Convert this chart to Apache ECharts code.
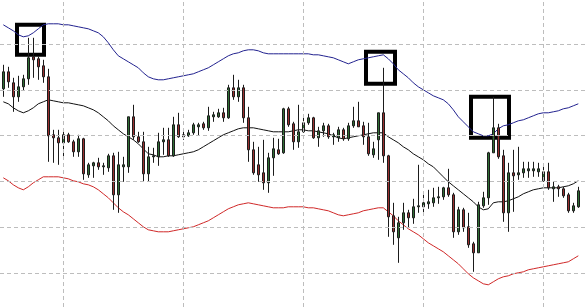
<!DOCTYPE html>
<html>
<head>
<meta charset="utf-8">
<script src="https://cdn.jsdelivr.net/npm/echarts@6/dist/echarts.min.js"></script>
<style>
html,body{margin:0;padding:0;background:#fff;}
#chart{width:585px;height:307px;}
</style>
</head>
<body>
<div id="chart"></div>
<script>
// Bar numbering: first visible bar is bar #12 of the series (vertical grid every 24 bars)
const FIRST_BAR = 12;

const opens = [
230,247,236,222,232,240,262,260,253,242,
184,181,176,184,177,167,180,144,153,156,
152,151,163,124,152,152,202,182,177,145,
162,162,177,179,163,194,184,183,186,192,
195,191,202,202,206,201,231,222,231,201,
169,154,146,136,161,169,166,210,195,177,
187,196,201,181,188,193,182,181,189,180,
193,198,193,182,164,179,206,163,103,81,
96,106,101,112,112,115,116,121,122,131,
124,87,109,92,75,66,113,121,166,191,
163,106,146,144,146,148,148,147,138,147,
130,132,130,124,108,112
];
const closes = [
247,237,222,232,240,261,259,252,242,183,
181,176,184,177,167,180,145,154,156,152,
153,163,124,154,154,202,182,177,145,162,
163,177,179,163,194,182,182,186,194,194,
191,203,204,206,201,231,222,231,201,169,
146,144,136,161,170,165,210,194,177,187,
196,201,181,188,193,182,184,189,180,193,
198,192,182,165,170,206,163,102,87,96,
106,101,112,113,116,117,121,122,131,124,
87,109,91,74,66,114,121,166,191,162,
106,146,143,146,150,150,150,150,147,131,
132,130,123,108,113,128
];
const lows = [
222,231,207,217,228,234,241,239,236,157,
156,154,162,176,162,162,139,141,141,149,
144,147,109,106,137,146,179,176,137,137,
156,153,164,162,162,181,179,182,184,183,
189,188,197,201,197,200,219,217,196,157,
144,137,129,126,143,164,165,192,169,171,
186,194,180,172,182,180,174,177,178,178,
191,192,174,163,161,159,156,82,74,56,
89,91,95,106,106,110,112,115,119,122,
81,84,87,71,47,66,111,114,166,160,
97,87,107,139,141,141,142,142,137,129,
117,122,121,106,106,111
];
const highs = [
254,252,241,243,244,281,281,262,259,250,
189,189,189,186,179,184,181,156,157,161,
156,165,166,167,162,202,214,187,187,172,
171,186,191,191,202,206,187,189,196,196,
197,212,207,210,211,234,244,239,234,212,
177,172,179,166,181,180,211,212,197,214,
201,205,202,192,196,195,186,192,191,196,
212,217,197,196,177,206,251,164,116,102,
116,109,120,154,126,129,131,132,132,150,
126,112,111,106,77,117,127,167,222,195,
169,156,169,172,157,157,157,156,155,156,
137,134,132,126,116,132
];
const upperBand = [
294,291,288,284,282,283,286,290,294,295,
295,295,294,294,293,292,291,290,288,286,
282,276,269,263,260,257,254,251,246,242,
240,239,239,240,241,242,243,244,245,247,
249,251,254,257,260,263,265,266,268,269,
269,268,266,265,265,265,265,265,265,265,
265,265,264,264,263,262,261,259,257,255,
257,259,260,261,262,263,264,260,255,249,
245,241,236,232,229,226,223,221,219,215,
209,202,197,192,187,185,183,183,185,190,
193,194,196,198,199,201,203,205,206,206,
207,208,210,211,213,215
];
const middleBand = [
217,215,211,208,206,208,211,215,217,219,
218,217,216,216,215,214,213,211,209,206,
202,198,193,189,185,182,179,175,170,165,
164,162,162,163,163,164,165,166,167,169,
172,175,178,181,184,186,188,190,191,191,
191,190,189,188,187,187,187,187,188,189,
189,188,188,187,186,185,183,181,180,181,
182,183,184,185,186,186,186,182,179,176,
172,169,165,162,159,155,152,147,142,137,
133,129,125,121,117,112,109,110,116,117,
117,118,120,122,125,127,129,130,131,131,
131,131,132,133,135,138
];
const lowerBand = [
141,138,134,131,129,132,136,139,142,142,
142,142,141,140,138,137,135,134,132,129,
125,121,116,111,107,104,100,96,92,89,
88,87,87,87,88,89,90,91,92,94,
96,98,101,104,107,110,112,114,115,116,
115,114,113,112,111,111,111,112,112,112,
112,111,111,110,109,108,106,104,103,104,
105,106,108,109,110,111,111,107,103,98,
94,90,87,84,80,76,73,70,67,63,
59,55,50,45,41,38,35,34,37,40,
42,43,45,46,47,49,50,51,52,53,
54,55,56,57,60,63
];
// grid levels (bar numbers and price levels)
const xGridBars = [24, 48, 72, 96, 120];
const yGridLevels = [45.8, 91.6, 137.4, 183.2, 229, 274.8];
// highlight boxes: [fromBar, toBar, lowValue, highValue] (bar numbers relative to first visible bar)
const boxes = [
  [2.74, 8.14, 264, 294],
  [72.54, 78.34, 235, 267],
  [93.54, 101.14, 181, 222]
];

const candleData = opens.map((o, i) => [i + FIRST_BAR, o, closes[i], lows[i], highs[i]]);
const toLine = arr => arr.map((v, i) => [i + FIRST_BAR, v]);

const chart = echarts.init(document.getElementById('chart'), null, {renderer: 'canvas'});
const hidden = {axisLine: {show: false}, axisTick: {show: false}, axisLabel: {show: false}, splitLine: {show: false}};
chart.setOption({
  animation: false,
  backgroundColor: '#ffffff',
  grid: {left: 0, top: 0, right: 0, bottom: 0, containLabel: false},
  xAxis: Object.assign({type: 'value', min: 11.34, max: 128.34}, hidden),
  yAxis: Object.assign({type: 'value', min: 11.8, max: 318.8, scale: true}, hidden),
  series: [
    {
      type: 'line', data: [], z: 1, silent: true,
      markLine: {
        silent: true, symbol: ['none', 'none'], label: {show: false}, animation: false,
        lineStyle: {color: '#bdbdbd', width: 1, type: [4, 3]},
        data: xGridBars.map(x => ({xAxis: x})).concat(yGridLevels.map(y => ({yAxis: y})))
      }
    },
    {type: 'line', data: toLine(upperBand), showSymbol: false, symbol: 'none',
     lineStyle: {color: '#22228f', width: 1}, z: 2},
    {type: 'line', data: toLine(middleBand), showSymbol: false, symbol: 'none',
     lineStyle: {color: '#111111', width: 1}, z: 2},
    {type: 'line', data: toLine(lowerBand), showSymbol: false, symbol: 'none',
     lineStyle: {color: '#d02828', width: 1}, z: 2},
    {
      type: 'candlestick',
      data: candleData,
      encode: {x: 0, y: [1, 2, 3, 4]},
      barWidth: 3,
      z: 3,
      itemStyle: {
        color: '#2f6e33', color0: '#9a2f2f',
        borderColor: '#1b1b1b', borderColor0: '#1b1b1b', borderWidth: 1
      },
      markArea: {
        silent: true,
        itemStyle: {color: 'rgba(0,0,0,0)', borderColor: '#000000', borderWidth: 4},
        data: boxes.map(b => [{coord: [b[0] + FIRST_BAR, b[3]]}, {coord: [b[1] + FIRST_BAR, b[2]]}])
      }
    }
  ]
});
</script>
</body>
</html>
